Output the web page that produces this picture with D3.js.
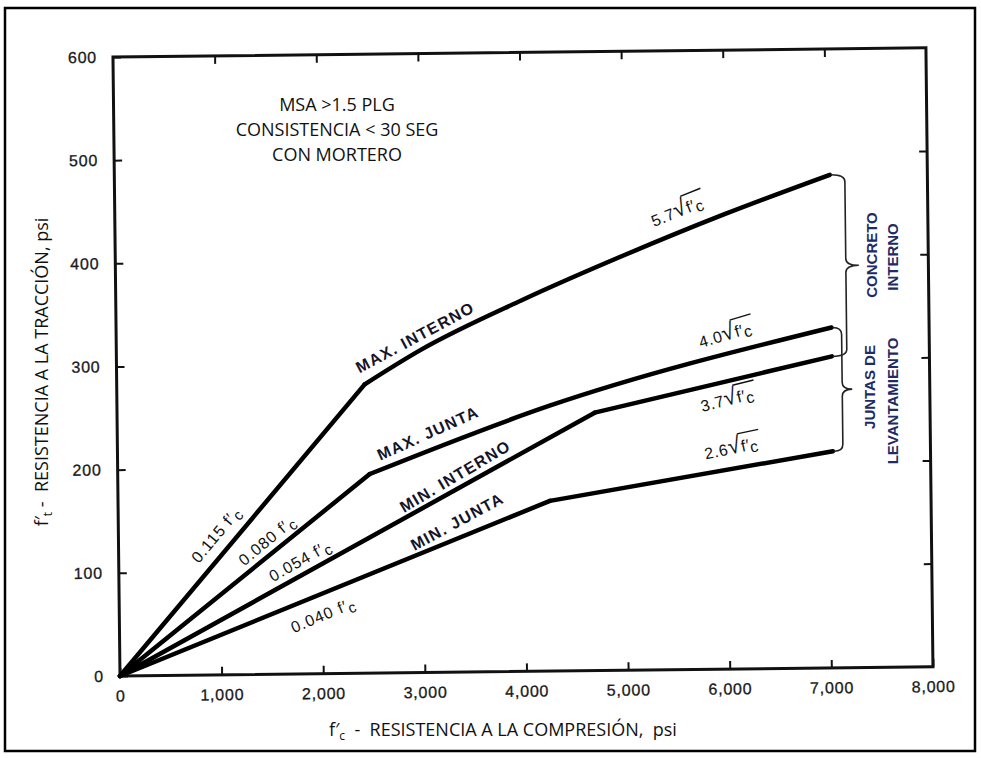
<!DOCTYPE html>
<html>
<head>
<meta charset="utf-8">
<title>Resistencia a la tracción vs compresión</title>
<script src="https://d3js.org/d3.v7.min.js"></script>
<style>
  body { margin: 0; background: #fff; }
  svg { display: block; }
</style>
</head>
<body>
<div id="chart"></div>
<script>
// ---- data (f'c psi, tensile psi) ----
const xTicks = [0, 1000, 2000, 3000, 4000, 5000, 6000, 7000, 8000];
const yTicks = [0, 100, 200, 300, 400, 500, 600];

// first segment is the straight 0.0xx f'c part, the rest the k*sqrt(f'c) part
const maxInterno = [[0, 0], [2440, 280], [3000, 313], [4000, 360], [5000, 402], [6000, 441], [7040, 478]];
const maxJunta   = [[0, 0], [2480, 193], [4250, 257], [7040, 330]];
const minInterno = [[0, 0], [4700, 250], [7040, 302]];
const minJunta   = [[0, 0], [4250, 165], [7040, 210]];

const seriesNames = ["MAX. INTERNO", "MAX. JUNTA", "MIN. INTERNO", "MIN. JUNTA"];
const seriesData = [maxInterno, maxJunta, minInterno, minJunta];

// linear-part labels (coef, anchor x, anchor y, angle)
const coefLabels = [
  { coef: "0.115", x: 960,  y: 136, angle: -49.4 },
  { coef: "0.080", x: 1462, y: 130, angle: -39.1 },
  { coef: "0.054", x: 1785, y: 110, angle: -28.7 },
  { coef: "0.040", x: 2005, y: 57,  angle: -22.1 }
];
// sqrt-part labels
const sqrtLabels = [
  { coef: "5.7", x: 5534, y: 444, angle: -21.4 },
  { coef: "4.0", x: 5993, y: 324, angle: -16 },
  { coef: "3.7", x: 6006, y: 261, angle: -13.4 },
  { coef: "2.6", x: 6040, y: 214, angle: -11.4 }
];
// curve name labels
const nameLabels = [
  { text: "MAX. INTERNO", x: 2941, y: 325, angle: -27.5 },
  { text: "MAX. JUNTA",   x: 3058, y: 232, angle: -23.5 },
  { text: "MIN. INTERNO", x: 3320, y: 190, angle: -30 },
  { text: "MIN. JUNTA",   x: 3335, y: 146, angle: -27.8 }
];
// braces: top / bottom value
const braces = [
  { top: 478, bottom: 302, off: 15, tip: 13 },
  { top: 330, bottom: 210, off: 10, tip: 10 }
];
const noteLines = ["MSA >1.5 PLG", "CONSISTENCIA < 30 SEG", "CON MORTERO"];

// ---- layout ----
const W = 981, H = 758;
const X0 = 120, Y0 = 676;

const svg = d3.select("#chart").append("svg")
  .attr("width", W).attr("height", H)
  .style("font-family", "'Liberation Sans', Arial, sans-serif");

// outer frame
svg.append("rect")
  .attr("x", 5).attr("y", 8).attr("width", 970).attr("height", 743)
  .attr("fill", "none").attr("stroke", "#000").attr("stroke-width", 2.5);

const x = d3.scaleLinear().domain([0, 8000]).range([X0, 933]);
const y = d3.scaleLinear().domain([0, 600]).range([Y0, 57]);

// the scanned plot is slightly tilted
const g = svg.append("g").attr("transform", `rotate(-0.65, ${X0}, ${Y0})`);

// plot box
g.append("rect")
  .attr("x", x(0)).attr("y", y(600))
  .attr("width", x(8000) - x(0)).attr("height", y(0) - y(600))
  .attr("fill", "none").attr("stroke", "#111").attr("stroke-width", 3);

const inner = 8;
g.append("g").attr("transform", `translate(0,${y(0)})`)
  .call(d3.axisBottom(x).tickValues(xTicks).tickSize(-inner).tickPadding(14)
    .tickFormat(d3.format(",")))
  .call(a => a.select(".domain").remove());

g.append("g").attr("transform", `translate(${x(0)},0)`)
  .call(d3.axisLeft(y).tickValues(yTicks).tickSize(-inner).tickPadding(16))
  .call(a => a.select(".domain").remove());

g.append("g").attr("transform", `translate(0,${y(600)})`)
  .call(d3.axisTop(x).tickValues(xTicks.slice(1, -1)).tickSize(-inner).tickFormat(""))
  .call(a => a.select(".domain").remove());

g.append("g").attr("transform", `translate(${x(8000)},0)`)
  .call(d3.axisRight(y).tickValues(yTicks.slice(1, -1)).tickSize(-inner).tickFormat(""))
  .call(a => a.select(".domain").remove());

g.selectAll(".tick line").attr("stroke", "#111").attr("stroke-width", 2);
g.selectAll(".tick text")
  .attr("fill", "#1a1a1a").attr("stroke", "#1a1a1a").attr("stroke-width", 0.3)
  .style("font-size", "16px").style("letter-spacing", "0.8px")
  .style("font-family", "'Liberation Sans', Arial, sans-serif");

// curves: straight part, then smooth sqrt part
const straight = d3.line().x(d => x(d[0])).y(d => y(d[1]));
const smooth = d3.line().x(d => x(d[0])).y(d => y(d[1])).curve(d3.curveMonotoneX);
const curves = g.selectAll(".curve").data(seriesData).join("g").attr("class", "curve");
curves.append("path").attr("d", d => straight(d.slice(0, 2)));
curves.append("path").attr("d", d => smooth(d.slice(1)));
curves.selectAll("path")
  .attr("fill", "none").attr("stroke", "#000")
  .attr("stroke-width", 4.5).attr("stroke-linejoin", "round").attr("stroke-linecap", "round");

// braces
function bracePath(b) {
  const xa = x(7040) + 1, xb = x(7040) + b.off, xt = xb + b.tip;
  const y1 = y(b.top), y2 = y(b.bottom), ym = (y1 + y2) / 2, r = 7;
  return `M${xa},${y1} Q${xb},${y1} ${xb},${y1 + r} L${xb},${ym - r} Q${xb},${ym} ${xt},${ym}` +
    ` Q${xb},${ym} ${xb},${ym + r} L${xb},${y2 - r} Q${xb},${y2} ${xa},${y2}`;
}
g.selectAll(".brace").data(braces).join("path")
  .attr("class", "brace").attr("d", bracePath)
  .attr("fill", "none").attr("stroke", "#222").attr("stroke-width", 1.6);

// label helpers
function labelGroup(d) {
  return g.append("g").attr("transform", `translate(${x(d.x)},${y(d.y)}) rotate(${d.angle})`);
}

coefLabels.forEach(d => {
  const t = labelGroup(d).append("text")
    .attr("text-anchor", "middle").attr("dy", "0.35em")
    .style("font-size", "16px").style("letter-spacing", "1px")
    .attr("fill", "#111");
  t.append("tspan").text(d.coef + " f\u2032");
  t.append("tspan").attr("dy", 4).style("font-size", "15px").text("c");
});

sqrtLabels.forEach(d => {
  const lg = labelGroup(d);
  const t = lg.append("text")
    .attr("text-anchor", "middle").attr("dy", "0.35em")
    .style("font-size", "16px").style("letter-spacing", "0.6px").attr("fill", "#111");
  t.append("tspan").text(d.coef);
  t.append("tspan").style("font-size", "23px").text("\u221A");
  t.append("tspan").text("f\u2032");
  t.append("tspan").attr("dy", 3).text("c");
  const node = t.node();
  const ext = node.getExtentOfChar(3);
  const bb = node.getBBox();
  lg.append("path")
    .attr("d", `M${ext.x + ext.width - 1.5},${ext.y + 2.5} H${bb.x + bb.width + 3}`)
    .attr("stroke", "#111").attr("stroke-width", 1.4);
});

nameLabels.forEach(d => {
  labelGroup(d).append("text")
    .attr("text-anchor", "middle").attr("dy", "0.35em")
    .style("font-size", "16px").style("font-weight", "bold").style("letter-spacing", "1.3px")
    .attr("fill", "#141428")
    .text(d.text);
});

// ---- overlay text (not tilted) ----
const note = svg.append("text")
  .attr("text-anchor", "middle")
  .style("font-family", "'Open Sans', sans-serif").style("font-size", "18px")
  .attr("fill", "#111");
noteLines.forEach((s, i) => {
  note.append("tspan").attr("x", 337).attr("y", 111 + i * 25).text(s);
});

const xt = svg.append("text")
  .attr("x", 503).attr("y", 736).attr("text-anchor", "middle")
  .style("font-family", "'Open Sans', sans-serif").style("font-size", "18px")
  .attr("fill", "#111");
xt.append("tspan").text("f\u2032");
xt.append("tspan").attr("dy", 4).style("font-size", "12px").text("c");
xt.append("tspan").attr("dy", -4).text("\u00a0 -\u00a0 RESISTENCIA A LA COMPRESIÓN,\u00a0 psi");

const yt = svg.append("text")
  .attr("transform", "translate(48,372) rotate(-90)").attr("text-anchor", "middle")
  .style("font-family", "'Open Sans', sans-serif").style("font-size", "18px")
  .attr("fill", "#111");
yt.append("tspan").text("f\u2032");
yt.append("tspan").attr("dy", 4).style("font-size", "12px").text("t");
yt.append("tspan").attr("dy", -4).text("\u00a0-\u00a0 RESISTENCIA A LA TRACCIÓN, psi");

const sideLabels = [
  { text: "CONCRETO", x: 872, y: 255 },
  { text: "INTERNO", x: 893, y: 257 },
  { text: "JUNTAS DE", x: 870, y: 387 },
  { text: "LEVANTAMIENTO", x: 893, y: 401 }
];
svg.selectAll(".side").data(sideLabels).join("text")
  .attr("class", "side")
  .attr("transform", d => `translate(${d.x},${d.y}) rotate(-90)`)
  .attr("text-anchor", "middle").attr("dy", "0.35em")
  .style("font-size", "15px").style("font-weight", "bold")
  .attr("fill", "#1d2b66")
  .text(d => d.text);
</script>
</body>
</html>
